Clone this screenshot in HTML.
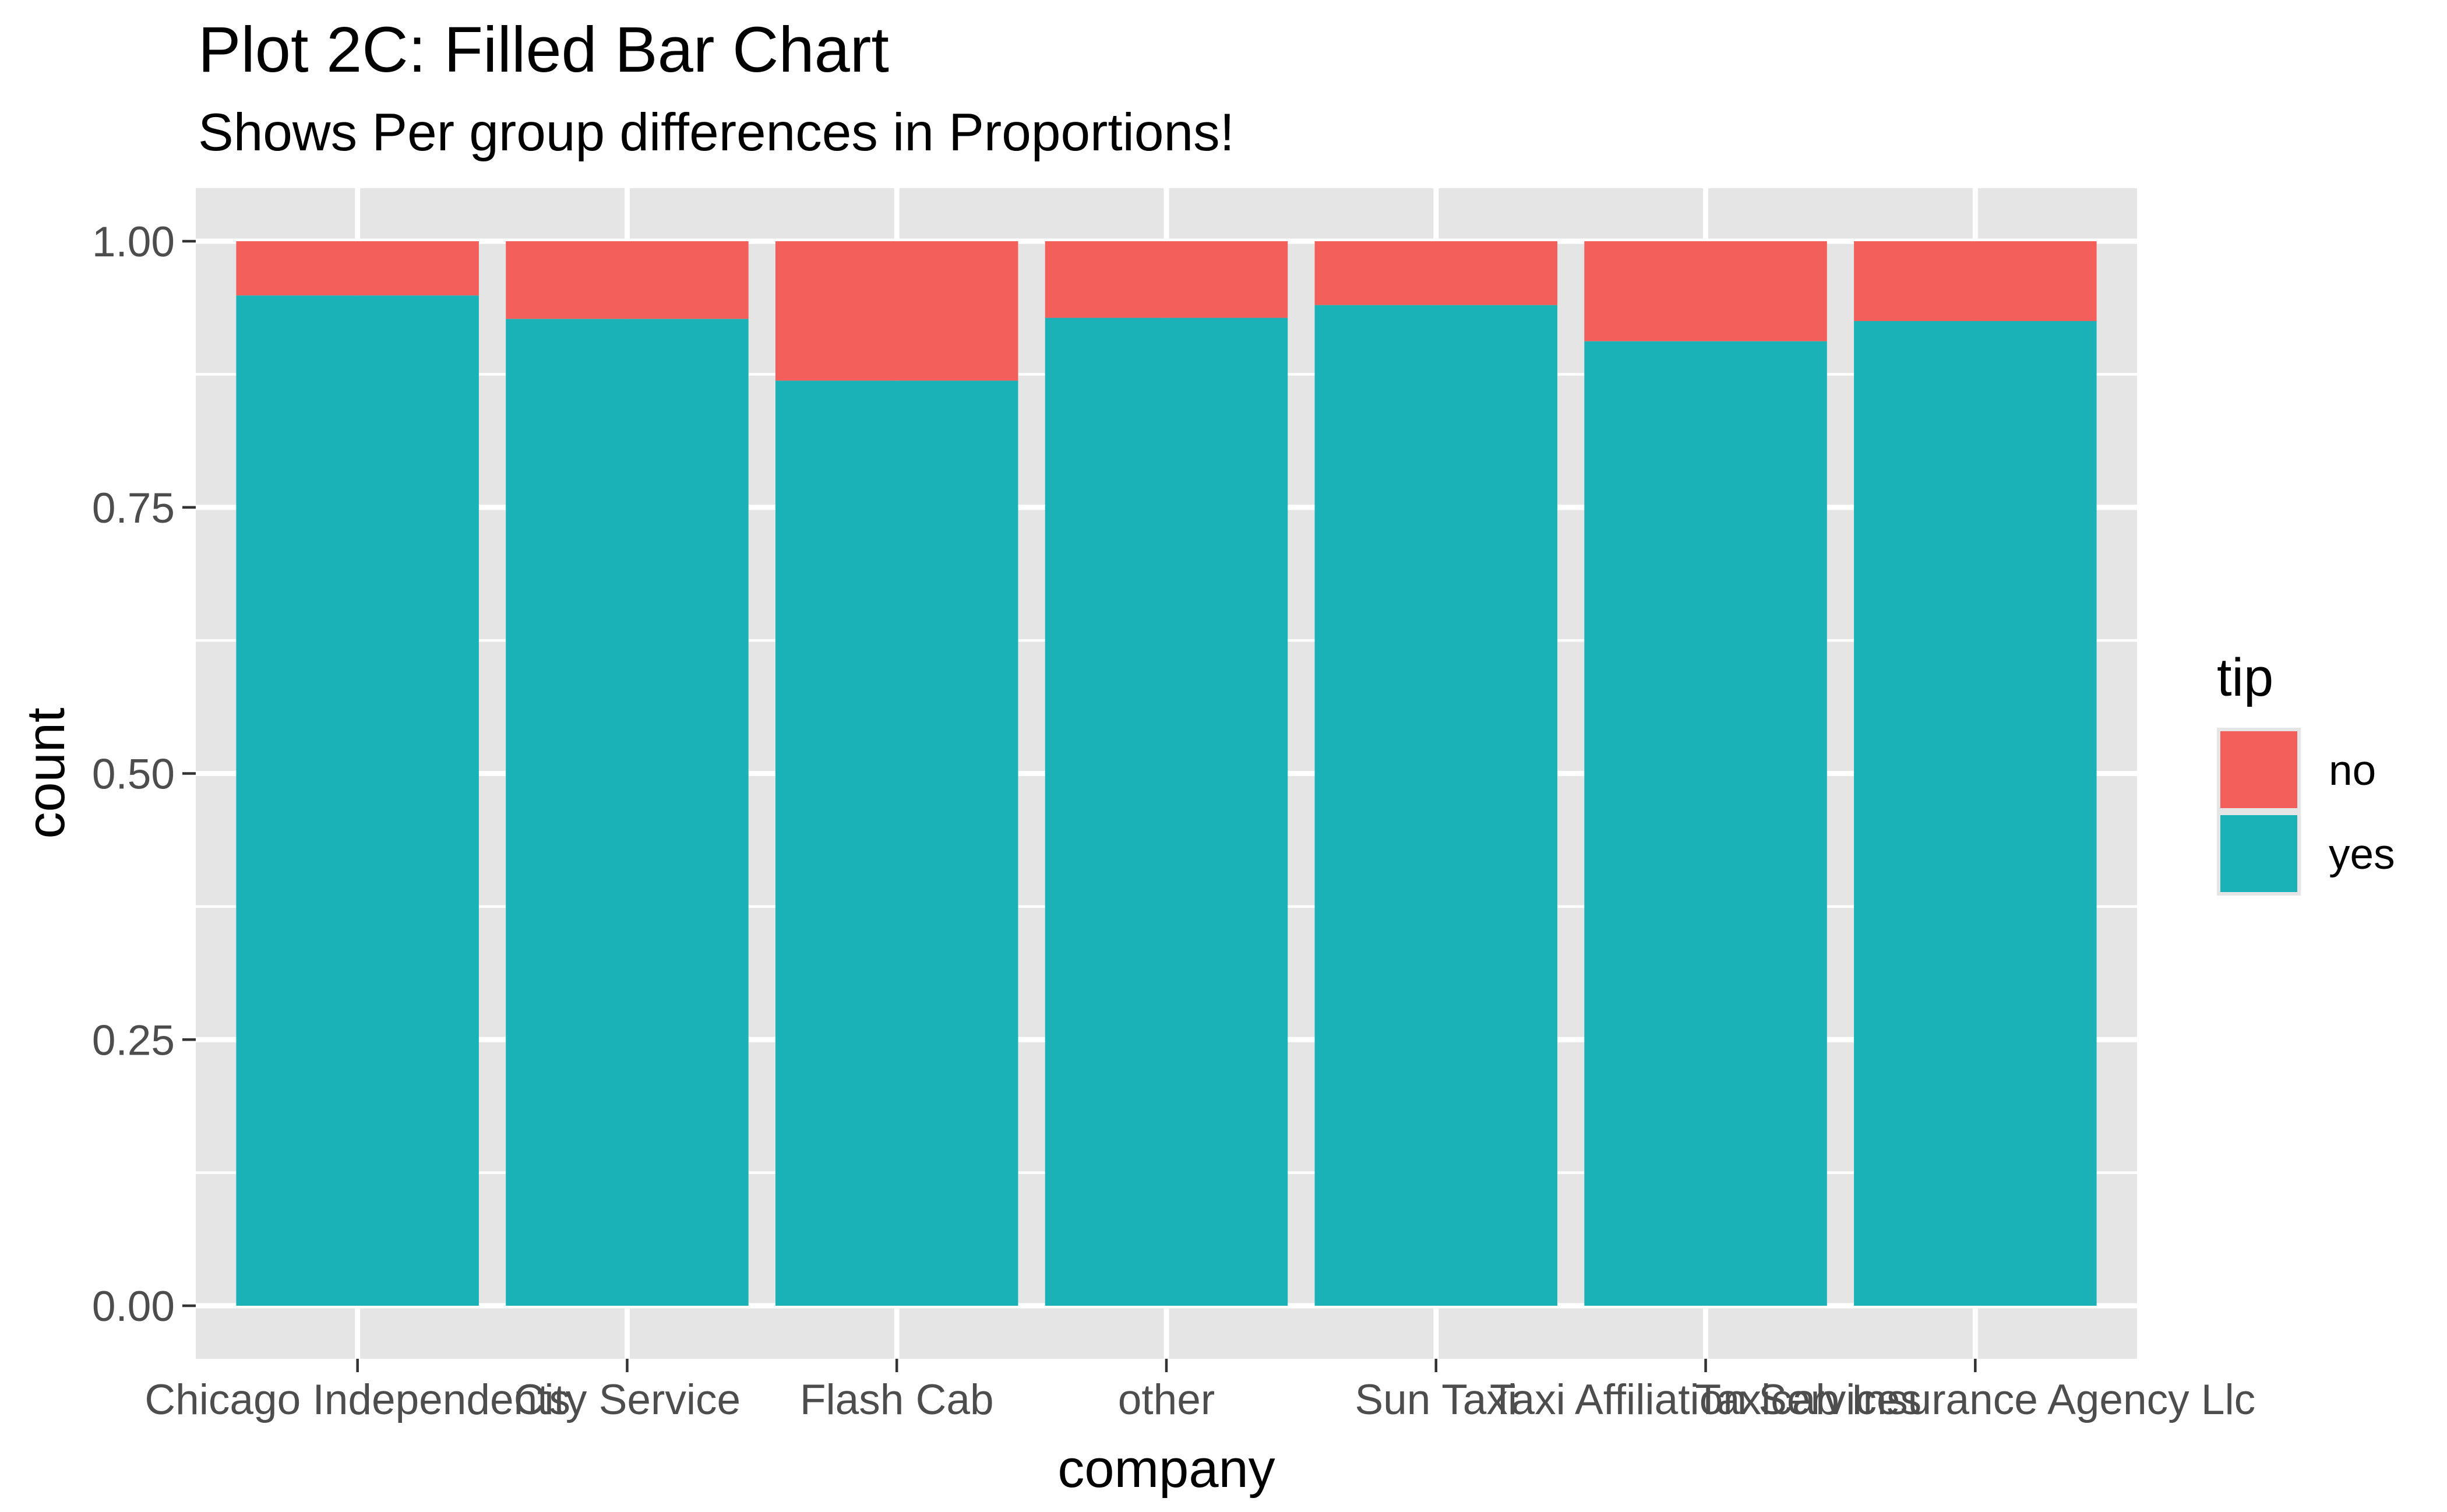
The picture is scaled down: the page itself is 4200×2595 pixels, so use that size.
<!DOCTYPE html>
<html><head><meta charset="utf-8"><style>
html,body{margin:0;padding:0;background:#fff}
svg{display:block;font-family:"Liberation Sans",Arial,sans-serif}
</style></head><body>
<svg id="chart" width="4200" height="2595" viewBox="0 0 4200 2595" xmlns="http://www.w3.org/2000/svg">
<text x="340" y="123" font-size="110" fill="#000">Plot 2C: Filled Bar Chart</text>
<text x="340" y="258" font-size="91" fill="#000">Shows Per group differences in Proportions!</text>
<rect x="336" y="323" width="3332" height="2009" fill="#e5e5e5"/>
<g id="grid"></g>
<g id="bars"></g>
<g id="yaxis"></g>
<g id="xaxis"></g>
<text transform="translate(110,1327) rotate(-90)" text-anchor="middle" font-size="92" fill="#000">count</text>
<text x="2002" y="2552" text-anchor="middle" font-size="92" fill="#000">company</text>
<g>
<text x="3805" y="1194" font-size="92" fill="#000">tip</text>
<rect x="3805" y="1249" width="144" height="144" fill="#e5e5e5"/>
<rect x="3811" y="1255" width="132" height="132" fill="#f3605c"/>
<rect x="3805" y="1393" width="144" height="144" fill="#e5e5e5"/>
<rect x="3811" y="1399" width="132" height="132" fill="#1ab2b6"/>
<text x="3997" y="1347" font-size="73" fill="#000">no</text>
<text x="3997" y="1491" font-size="73" fill="#000">yes</text>
</g>
</svg>
<script>
const categories = ["Chicago Independents","City Service","Flash Cab","other","Sun Taxi","Taxi Affiliation Services","Taxicab Insurance Agency Llc"];
const yesShare = [0.949, 0.927, 0.869, 0.928, 0.940, 0.906, 0.925];
const yTicks = [0, 0.25, 0.5, 0.75, 1];
const yTickLabels = ["0.00","0.25","0.50","0.75","1.00"];

const NS = "http://www.w3.org/2000/svg";
const PL = 336, PR = 3668, PT = 323, PB = 2332;
const n = categories.length;
const step = (PR - PL) / (n + 0.2);
const xC = i => PL + step * (0.6 + i);
const yS = v => 2241 - v * 1827;
function mk(tag, attrs, parent){const e=document.createElementNS(NS,tag);for(const k in attrs)e.setAttribute(k,attrs[k]);parent.appendChild(e);return e;}
const grid = document.getElementById('grid');
for (let i = 0; i < yTicks.length - 1; i++) {
  const v = (yTicks[i] + yTicks[i+1]) / 2;
  const l = mk('line',{x1:PL,x2:PR,y1:yS(v),y2:yS(v),stroke:'#fff','stroke-width':4.5},grid);
  
  
}
yTicks.forEach(v=>{
  const l = mk('line',{x1:PL,x2:PR,y1:yS(v),y2:yS(v),stroke:'#fff','stroke-width':9},grid);
  
  
});
categories.forEach((c,i)=>{
  const l = mk('line',{x1:xC(i),x2:xC(i),y1:PT,y2:PB,stroke:'#fff','stroke-width':9},grid);
  
  
});
const bars = document.getElementById('bars');
const bw = step * 0.9;
categories.forEach((c,i)=>{
  const x = xC(i) - bw/2;
  const r1 = mk('rect',{x:x,y:yS(1),width:bw,height:yS(yesShare[i])-yS(1),fill:'#f3605c'},bars);
  
  
  const r2 = mk('rect',{x:x,y:yS(yesShare[i]),width:bw,height:yS(0)-yS(yesShare[i]),fill:'#1ab2b6'},bars);
  
  
});
const ya = document.getElementById('yaxis');
yTicks.forEach((v,i)=>{
  const t = mk('line',{x1:PL-23,x2:PL,y1:yS(v),y2:yS(v),stroke:'#333','stroke-width':4.5},ya);
  
  
  const tx = mk('text',{x:PL-36,y:yS(v)+26,'text-anchor':'end','font-size':73,fill:'#4d4d4d'},ya);
  tx.textContent = yTickLabels[i];
  
  
});
const xa = document.getElementById('xaxis');
categories.forEach((c,i)=>{
  const t = mk('line',{x1:xC(i),x2:xC(i),y1:PB,y2:PB+23,stroke:'#333','stroke-width':4.5},xa);
  
  
  const tx = mk('text',{x:xC(i),y:2427,'text-anchor':'middle','font-size':73,fill:'#4d4d4d'},xa);
  tx.textContent = c;
  
  
});
</script>
</body></html>
